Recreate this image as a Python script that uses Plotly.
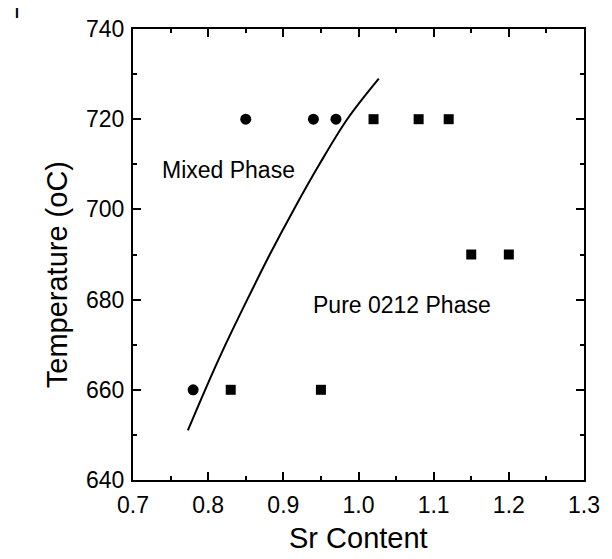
import plotly.graph_objects as go

# Data
mixed_x = [0.78, 0.85, 0.94, 0.97]
mixed_y = [660, 720, 720, 720]
pure_x = [0.83, 0.95, 1.02, 1.08, 1.12, 1.15, 1.20]
pure_y = [660, 660, 720, 720, 720, 690, 690]
curve_x = [0.773, 0.796, 0.823, 0.852, 0.882, 0.914, 0.948, 0.985, 1.027]
curve_y = [651, 660, 670, 680, 690, 700, 710, 720, 729]

FONT = "Liberation Sans, Arial, Helvetica, sans-serif"

fig = go.Figure()
fig.add_trace(go.Scatter(x=curve_x, y=curve_y, mode="lines",
                         line=dict(color="black", width=2, shape="spline", smoothing=1),
                         hoverinfo="skip"))
fig.add_trace(go.Scatter(x=mixed_x, y=mixed_y, mode="markers",
                         marker=dict(symbol="circle", size=11, color="black")))
fig.add_trace(go.Scatter(x=pure_x, y=pure_y, mode="markers",
                         marker=dict(symbol="square", size=10, color="black")))

axis_common = dict(showline=True, linecolor="black", linewidth=2, mirror="allticks",
                   ticks="inside", ticklen=8, tickwidth=2, tickcolor="black",
                   showgrid=False, zeroline=False,
                   tickfont=dict(family=FONT, size=23, color="black"))

fig.update_xaxes(range=[0.7, 1.3], dtick=0.1, tick0=0.7, tickformat=".1f",
                 minor=dict(ticks="inside", ticklen=4, tickwidth=2, dtick=0.05,
                            tickcolor="black", showgrid=False),
                 ticklabelstandoff=3, **axis_common)
fig.update_yaxes(range=[640, 740], dtick=20, tick0=640,
                 minor=dict(ticks="inside", ticklen=4, tickwidth=2, dtick=10,
                            tickcolor="black", showgrid=False),
                 ticklabelstandoff=2, **axis_common)

fig.add_annotation(text="Mixed Phase", x=0.827, y=708.7, xref="x", yref="y",
                   showarrow=False, font=dict(family=FONT, size=23, color="black"))
fig.add_annotation(text="Pure 0212 Phase", x=1.058, y=678.8, xref="x", yref="y",
                   showarrow=False, font=dict(family=FONT, size=23, color="black"))
fig.add_annotation(text="Temperature (oC)", x=-0.168, y=0.4545, xref="paper", yref="paper",
                   textangle=-90, xanchor="center", yanchor="middle", showarrow=False,
                   font=dict(family=FONT, size=29, color="black"))
fig.add_annotation(text="Sr Content", x=0.5, y=-0.128, xref="paper", yref="paper",
                   xanchor="center", yanchor="middle", showarrow=False,
                   font=dict(family=FONT, size=29, color="black"))
fig.add_annotation(text="<b>I</b>", x=-0.257, y=1.035, xref="paper", yref="paper",
                   xanchor="center", yanchor="middle", showarrow=False,
                   font=dict(family=FONT, size=14, color="black"))

fig.update_layout(width=612, height=559, showlegend=False,
                  margin=dict(l=133, r=26, t=29, b=79, pad=0),
                  paper_bgcolor="white", plot_bgcolor="white")

fig.write_html("out.html")
